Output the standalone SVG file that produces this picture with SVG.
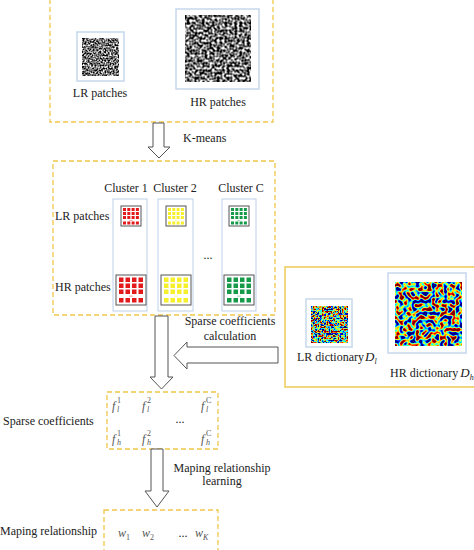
<svg xmlns="http://www.w3.org/2000/svg" width="474" height="550" viewBox="0 0 474 550">
<style>
text{font-family:"Liberation Serif","Times New Roman",serif;font-size:12px;fill:#222}
.it{font-style:italic}
.sm{font-size:8px}
.g{fill:#555}
.dash{fill:none;stroke:#efc64a;stroke-width:1.3;stroke-dasharray:5,3}
.solid{fill:none;stroke:#efcd62;stroke-width:1.6}
.frame{fill:#fff;stroke:#c6d7ec;stroke-width:1.5}
.col{fill:#fff;stroke:#bcd1ea;stroke-width:1}
.arrow{fill:#fff;stroke:#555;stroke-width:1}
.pf{fill:#fff;stroke:#555;stroke-width:1}
</style>
<defs>
<filter id="gray" x="0" y="0" width="1" height="1" color-interpolation-filters="sRGB">
<feTurbulence type="fractalNoise" baseFrequency="0.6" numOctaves="1" seed="7"/>
<feColorMatrix type="matrix" values="1 0 0 0 0  1 0 0 0 0  1 0 0 0 0  0 0 0 0 1"/>
<feComponentTransfer><feFuncR type="linear" slope="2.6" intercept="-0.85"/><feFuncG type="linear" slope="2.6" intercept="-0.85"/><feFuncB type="linear" slope="2.6" intercept="-0.85"/></feComponentTransfer>
</filter>
<filter id="gray2" x="0" y="0" width="1" height="1" color-interpolation-filters="sRGB">
<feTurbulence type="fractalNoise" baseFrequency="0.4" numOctaves="1" seed="3"/>
<feColorMatrix type="matrix" values="1 0 0 0 0  1 0 0 0 0  1 0 0 0 0  0 0 0 0 1"/>
<feComponentTransfer><feFuncR type="linear" slope="2.6" intercept="-0.85"/><feFuncG type="linear" slope="2.6" intercept="-0.85"/><feFuncB type="linear" slope="2.6" intercept="-0.85"/></feComponentTransfer>
</filter>
<filter id="jet" x="0" y="0" width="1" height="1" color-interpolation-filters="sRGB">
<feTurbulence type="fractalNoise" baseFrequency="0.45" numOctaves="1" seed="11"/>
<feColorMatrix type="matrix" values="1 0 0 0 0  1 0 0 0 0  1 0 0 0 0  0 0 0 0 1"/>
<feComponentTransfer><feFuncR type="linear" slope="3" intercept="-1"/><feFuncG type="linear" slope="3" intercept="-1"/><feFuncB type="linear" slope="3" intercept="-1"/></feComponentTransfer>
<feComponentTransfer><feFuncR type="table" tableValues="0 0 0 0 0.5 1 1 1 0.5"/><feFuncG type="table" tableValues="0 0 0.5 1 1 1 0.5 0 0"/><feFuncB type="table" tableValues="0.5 1 1 1 0.5 0 0 0 0"/></feComponentTransfer>
</filter>
<filter id="jet2" x="0" y="0" width="1" height="1" color-interpolation-filters="sRGB">
<feTurbulence type="fractalNoise" baseFrequency="0.25" numOctaves="1" seed="5"/>
<feColorMatrix type="matrix" values="1 0 0 0 0  1 0 0 0 0  1 0 0 0 0  0 0 0 0 1"/>
<feComponentTransfer><feFuncR type="linear" slope="3" intercept="-1"/><feFuncG type="linear" slope="3" intercept="-1"/><feFuncB type="linear" slope="3" intercept="-1"/></feComponentTransfer>
<feComponentTransfer><feFuncR type="table" tableValues="0 0 0 0 0.5 1 1 1 0.5"/><feFuncG type="table" tableValues="0 0 0.5 1 1 1 0.5 0 0"/><feFuncB type="table" tableValues="0.5 1 1 1 0.5 0 0 0 0"/></feComponentTransfer>
</filter>
<g id="hrGrid">
<rect class="pf" x="0" y="0" width="30" height="30"/>
<rect x="3" y="2.5" width="4.5" height="4.5"/><rect x="9.5" y="2.5" width="4.5" height="4.5"/><rect x="16" y="2.5" width="4.5" height="4.5"/><rect x="22.5" y="2.5" width="4.5" height="4.5"/>
<rect x="3" y="8.5" width="4.5" height="4.5"/><rect x="9.5" y="8.5" width="4.5" height="4.5"/><rect x="16" y="8.5" width="4.5" height="4.5"/><rect x="22.5" y="8.5" width="4.5" height="4.5"/>
<rect x="3" y="14.5" width="4.5" height="4.5"/><rect x="9.5" y="14.5" width="4.5" height="4.5"/><rect x="16" y="14.5" width="4.5" height="4.5"/><rect x="22.5" y="14.5" width="4.5" height="4.5"/>
<rect x="13" y="20.7" width="4" height="0.8" opacity="0.5"/>
<rect x="3" y="23" width="4.5" height="4.5"/><rect x="9.5" y="23" width="4.5" height="4.5"/><rect x="16" y="23" width="4.5" height="4.5"/><rect x="22.5" y="23" width="4.5" height="4.5"/>
</g>
<g id="lrGrid">
<rect class="pf" x="0" y="0" width="20" height="20"/>
<rect x="2" y="2" width="3" height="3"/><rect x="6.3" y="2" width="3" height="3"/><rect x="10.6" y="2" width="3" height="3"/><rect x="14.9" y="2" width="3" height="3"/>
<rect x="2" y="6" width="3" height="3"/><rect x="6.3" y="6" width="3" height="3"/><rect x="10.6" y="6" width="3" height="3"/><rect x="14.9" y="6" width="3" height="3"/>
<rect x="2" y="10" width="3" height="3"/><rect x="6.3" y="10" width="3" height="3"/><rect x="10.6" y="10" width="3" height="3"/><rect x="14.9" y="10" width="3" height="3"/>
<rect x="8.5" y="14" width="3" height="0.7" opacity="0.5"/>
<rect x="2" y="15.5" width="3" height="3"/><rect x="6.3" y="15.5" width="3" height="3"/><rect x="10.6" y="15.5" width="3" height="3"/><rect x="14.9" y="15.5" width="3" height="3"/>
</g>
</defs>
<rect width="474" height="550" fill="#fff"/>

<g id="input-patches">
<rect class="dash" x="50" y="-10" width="223" height="132"/>
<rect class="frame" x="77" y="32" width="47" height="49"/>
<rect x="82" y="38" width="37" height="38" fill="#fff" filter="url(#gray)"/>
<text x="100" y="97" text-anchor="middle">LR patches</text>
<rect class="frame" x="176" y="9" width="83" height="80"/>
<rect x="185" y="15" width="66" height="67" fill="#fff" filter="url(#gray2)"/>
<text x="218" y="106" text-anchor="middle">HR patches</text>
</g>

<g id="clusters">
<rect class="dash" x="53" y="161" width="222" height="154"/>
<text x="126" y="192" text-anchor="middle">Cluster 1</text>
<text x="175" y="192" text-anchor="middle">Cluster 2</text>
<text x="241" y="192" text-anchor="middle">Cluster C</text>
<text x="55" y="220">LR patches</text>
<text x="55" y="291">HR patches</text>
<rect class="col" x="113" y="199" width="34" height="112"/>
<rect class="col" x="158" y="199" width="35" height="112"/>
<rect class="col" x="222" y="199" width="34" height="112"/>
<use href="#lrGrid" x="121" y="206" fill="#e31a1c"/>
<use href="#lrGrid" x="166" y="206" fill="#f5f02a"/>
<use href="#lrGrid" x="229" y="206" fill="#17994a"/>
<use href="#hrGrid" x="116" y="275" fill="#e31a1c"/>
<use href="#hrGrid" x="161" y="275" fill="#f5f02a"/>
<use href="#hrGrid" x="224" y="275" fill="#17994a"/>
<text x="208" y="259" text-anchor="middle">...</text>
</g>

<g id="dictionaries">
<rect class="solid" x="285" y="267" width="200" height="120"/>
<rect class="frame" x="306" y="299" width="46" height="48"/>
<rect x="311" y="306" width="37" height="37" fill="#fff" filter="url(#jet)"/>
<text x="297" y="361">LR dictionary<tspan class="it" font-size="13" dx="1">D</tspan><tspan class="it sm" dy="3">l</tspan></text>
<rect class="frame" x="388" y="273" width="78" height="80"/>
<rect x="395" y="282" width="67" height="64" fill="#fff" filter="url(#jet2)"/>
<text x="390" y="377">HR dictionary<tspan class="it" font-size="13" dx="2">D</tspan><tspan class="it sm" dy="3">h</tspan></text>
</g>

<g id="sparse-coefficients">
<rect class="dash" x="107" y="392" width="111" height="57"/>
<text class="it g" x="112" y="410" font-size="13">f</text><text class="sm g" x="117" y="403">1</text><text class="it sm g" x="117" y="412">l</text>
<text class="it g" x="142" y="410" font-size="13">f</text><text class="sm g" x="147" y="403">2</text><text class="it sm g" x="147" y="412">l</text>
<text class="it g" x="201" y="410" font-size="13">f</text><text class="sm g" x="206" y="403">C</text><text class="it sm g" x="206" y="412">l</text>
<text x="180" y="423" text-anchor="middle">...</text>
<text class="it g" x="112" y="443" font-size="13">f</text><text class="sm g" x="117" y="436">1</text><text class="it sm g" x="117" y="445">h</text>
<text class="it g" x="142" y="443" font-size="13">f</text><text class="sm g" x="147" y="436">2</text><text class="it sm g" x="147" y="445">h</text>
<text class="it g" x="201" y="443" font-size="13">f</text><text class="sm g" x="206" y="436">C</text><text class="it sm g" x="206" y="445">h</text>
<text x="3" y="425">Sparse coefficients</text>
</g>

<g id="mapping">
<rect class="dash" x="104" y="510" width="114" height="60"/>
<text x="0" y="535">Maping relationship</text>
<text class="it g" x="118" y="537">w</text><text class="sm g" x="126" y="540">1</text>
<text class="it g" x="142" y="537">w</text><text class="sm g" x="150" y="540">2</text>
<text x="183" y="537" text-anchor="middle">...</text>
<text class="it g" x="195" y="537">w</text><text class="it sm g" x="203" y="540">K</text>
</g>

<g id="connectors">
<polygon class="arrow" points="153,123 164,123 164,147 170,147 159,158 148,147 153,147"/>
<text x="183" y="142">K-means</text>
<polygon class="arrow" points="155,316 168,316 168,377 173,377 161.5,389 150,377 155,377"/>
<polygon class="arrow" points="278,347 278,363 187,363 187,369 174,355.5 187,342 187,347"/>
<text x="230" y="325" text-anchor="middle">Sparse coefficients</text>
<text x="230" y="340" text-anchor="middle">calculation</text>
<polygon class="arrow" points="151,449 163,449 163,491 169,491 157,507 145,491 151,491"/>
<text x="222" y="472" text-anchor="middle">Maping relationship</text>
<text x="222" y="485" text-anchor="middle">learning</text>
</g>
</svg>
